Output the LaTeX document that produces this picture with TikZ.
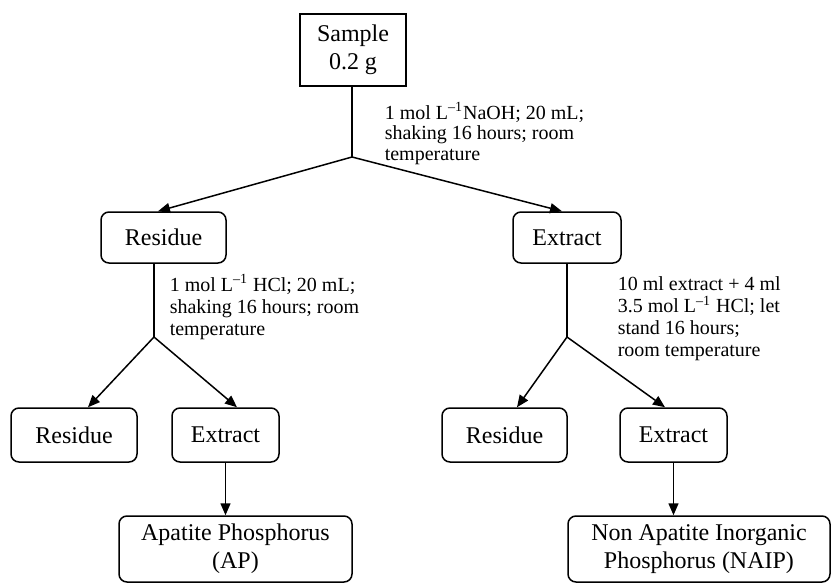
\documentclass[tikz,border=0pt]{standalone}
\usepackage{fontspec}
\setmainfont{Liberation Serif}
\usetikzlibrary{arrows.meta, calc}

\begin{document}
\begin{tikzpicture}[x=0.5pt, y=-0.5pt, line width=0.75pt,
    every node/.style={font=\fontsize{12}{14}\selectfont},
    sbox/.style={draw, rounded corners=4pt, align=center, inner sep=0pt},
    note/.style={anchor=north west, align=left, inner sep=0pt, font=\fontsize{10}{11}\selectfont},
    arr/.style={-{Triangle[length=6pt,width=5pt]}}]
    \useasboundingbox (0,0) rectangle (832,584);

    \node[draw, align=center, inner sep=0pt, minimum width=53pt, minimum height=36pt] (sample) at (353,50) {Sample\\0.2 g};

    \node[sbox, minimum width=62.5pt, minimum height=25.5pt] (res1) at (163.5,237.5) {Residue};
    \node[sbox, minimum width=54pt, minimum height=25.5pt] (ext1) at (567,237.5) {Extract};

    \node[sbox, minimum width=63pt, minimum height=27pt] (res2) at (74,435) {Residue};
    \node[sbox, minimum width=53.5pt, minimum height=27pt] (ext2) at (225.5,435) {Extract};
    \node[sbox, minimum width=62.5pt, minimum height=27pt] (res3) at (504.5,435) {Residue};
    \node[sbox, minimum width=53.5pt, minimum height=27pt] (ext3) at (673.5,435) {Extract};

    \node[sbox, minimum width=116.5pt, minimum height=33pt] (ap) at (235.5,549) {Apatite Phosphorus\\(AP)};
    \node[sbox, minimum width=131pt, minimum height=33pt] (naip) at (699,549) {Non Apatite Inorganic\\Phosphorus (NAIP)};

    \coordinate (j1) at (352,157);
    \coordinate (j2) at (154,337);
    \coordinate (j3) at (567,337);

    \draw (j1 |- sample.south) -- (j1);
    \draw (j2 |- res1.south) -- (j2);
    \draw (j3 |- ext1.south) -- (j3);

    \draw[arr] (j1) -- ([xshift=-2.75pt]res1.north);
    \draw[arr] (j1) -- ([xshift=-2.5pt]ext1.north);
    \draw[arr] (j2) -- ([xshift=7pt]res2.north);
    \draw[arr] (j2) -- ([xshift=5.75pt]ext2.north);
    \draw[arr] (j3) -- ([xshift=6.25pt]res3.north);
    \draw[arr] (j3) -- ([xshift=-4.25pt]ext3.north);
    \draw[arr] (ext2.south) -- (ext2.south |- ap.north);
    \draw[arr] (ext3.south) -- (ext3.south |- naip.north);

    \node[note, font=\fontsize{10}{10.25}\selectfont] (n1) at (384,102) {1 mol L\textsuperscript{--1}NaOH; 20 mL;\\shaking 16 hours; room\\temperature};
    \node[note] (n2) at (169,274) {1 mol L\textsuperscript{--1} HCl; 20 mL;\\shaking 16 hours; room\\temperature};
    \node[note] (n3) at (617,276) {10 ml extract + 4 ml\\3.5 mol L\textsuperscript{--1} HCl; let\\stand 16 hours;\\room temperature};
\end{tikzpicture}
\end{document}
